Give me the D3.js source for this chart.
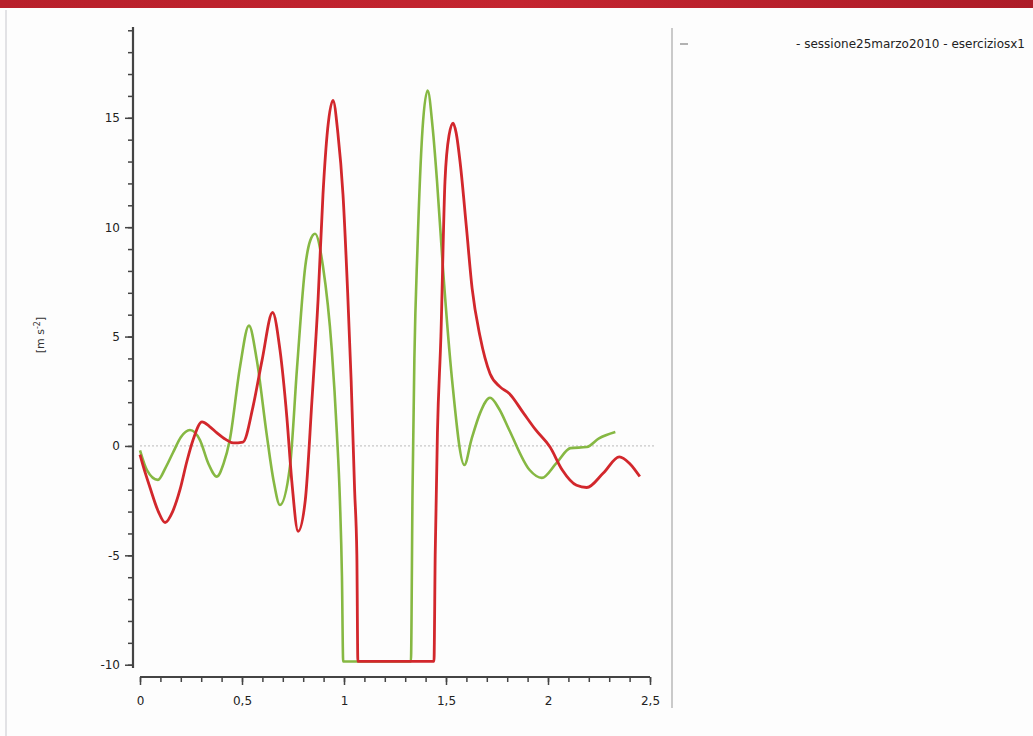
<!DOCTYPE html>
<html>
<head>
<meta charset="utf-8">
<script src="https://cdn.jsdelivr.net/npm/d3@7"></script>
<style>
  body { margin: 0; background: #fdfdfd; }
  svg { display: block; }
  .axis text { font-family: "DejaVu Sans", Verdana, sans-serif; font-size: 12px; fill: #222; }
  .axis path, .axis line { stroke: #444; }
</style>
</head>
<body>
<script>
// red series (time in s, value in m s-2)
var redT = [0, 0.015, 0.049, 0.09, 0.123, 0.16, 0.196, 0.23, 0.26, 0.304, 0.34, 0.377, 0.42, 0.456, 0.505, 0.554, 0.598, 0.65, 0.686, 0.72, 0.745, 0.775, 0.81, 0.843, 0.873, 0.897, 0.92, 0.946, 0.97, 0.995, 1.018, 1.035, 1.052, 1.063, 1.068, 1.441, 1.447, 1.458, 1.475, 1.495, 1.515, 1.535, 1.55, 1.57, 1.60, 1.628, 1.667, 1.716, 1.765, 1.81, 1.88, 1.94, 2.01, 2.07, 2.14, 2.19, 2.27, 2.35, 2.40, 2.45]
var redV = [-0.4, -0.9, -1.9, -3.0, -3.5, -3.0, -2.0, -0.7, 0.27, 1.1, 0.9, 0.6, 0.3, 0.14, 0.18, 1.8, 3.9, 6.1, 4.4, 1.3, -1.7, -3.9, -2.5, 2.1, 6.7, 11.5, 14.5, 15.8, 14.3, 11.5, 7.0, 3.0, -2.0, -5.0, -9.85, -9.85, -5.0, 0.6, 5.0, 12.1, 14.2, 14.75, 14.3, 12.9, 10.0, 7.2, 5.0, 3.3, 2.7, 2.4, 1.5, 0.73, -0.05, -1.1, -1.8, -1.9, -1.25, -0.5, -0.8, -1.4]

// green series
var greenT = [0, 0.034, 0.088, 0.125, 0.162, 0.2, 0.245, 0.294, 0.335, 0.377, 0.41, 0.44, 0.49, 0.534, 0.573, 0.62, 0.655, 0.686, 0.735, 0.77, 0.81, 0.835, 0.858, 0.897, 0.94, 0.965, 0.98, 0.99, 0.996, 1.328, 1.336, 1.345, 1.36, 1.385, 1.41, 1.435, 1.456, 1.486, 1.53, 1.59, 1.625, 1.667, 1.716, 1.76, 1.81, 1.91, 1.97, 2.04, 2.11, 2.19, 2.25, 2.33]
var greenV = [-0.2, -1.1, -1.55, -1.0, -0.3, 0.4, 0.73, 0.27, -0.8, -1.4, -0.8, 0.27, 3.6, 5.5, 3.9, 0.6, -1.6, -2.7, -0.95, 3.6, 8.2, 9.4, 9.7, 8.2, 4.4, 0.6, -2.5, -6.0, -9.85, -9.85, -2.0, 4.0, 9.0, 14.5, 16.25, 14.5, 12.1, 8.0, 3.0, -0.87, 0.3, 1.5, 2.2, 1.7, 0.73, -1.1, -1.46, -0.8, -0.1, -0.05, 0.35, 0.64]

var xTicks = [0, 0.5, 1, 1.5, 2, 2.5]
var yTicks = [-10, -5, 0, 5, 10, 15]
var yLabel = "[m s"
var yLabelSup = "-2"
var legendText = "- sessione25marzo2010 - eserciziosx1"

var width = 1033, height = 736

var svg = d3.select("body").append("svg")
  .attr("width", width)
  .attr("height", height)

// top red band
var grad = svg.append("defs").append("linearGradient").attr("id", "band")
grad.append("stop").attr("offset", "0%").attr("stop-color", "#b8202b")
grad.append("stop").attr("offset", "50%").attr("stop-color", "#c42530")
grad.append("stop").attr("offset", "100%").attr("stop-color", "#ad1c28")
svg.append("rect").attr("x", 0).attr("y", 0).attr("width", width).attr("height", 8).attr("fill", "url(#band)")

// faint scan edge
svg.append("line").attr("x1", 6).attr("x2", 6).attr("y1", 10).attr("y2", height)
  .attr("stroke", "#d8d8dc").attr("stroke-width", 1.5)

var x = d3.scaleLinear().domain([0, 2.5]).range([140, 650])
var y = d3.scaleLinear().domain([-10.15, 19.15]).range([668, 27])

var fmt = function(d){ return String(d).replace(".", ",") }

// y axis
var yAxis = d3.axisLeft(y).tickValues(yTicks).tickSize(8).tickPadding(5).tickFormat(fmt)
var gy = svg.append("g").attr("class", "axis").attr("transform", "translate(133,0)").call(yAxis)
gy.select(".domain").attr("stroke-width", 2.2).attr("d", "M0," + y.range()[0] + "V" + y.range()[1])
var gyMinor = svg.append("g").attr("class", "axis").attr("transform", "translate(133,0)")
  .call(d3.axisLeft(y).tickValues(d3.range(-10, 20, 1)).tickSize(5).tickFormat(""))
gyMinor.select(".domain").remove()
gy.selectAll("line").attr("stroke-width", 1.5)
gyMinor.selectAll("line").attr("stroke-width", 1.5)

// x axis
var xAxis = d3.axisBottom(x).tickValues(xTicks).tickSize(8).tickPadding(11).tickFormat(fmt)
var gx = svg.append("g").attr("class", "axis").attr("transform", "translate(0,677)").call(xAxis)
gx.select(".domain").attr("stroke-width", 2).attr("d", "M" + x.range()[0] + ",0H" + x.range()[1])
var gxMinor = svg.append("g").attr("class", "axis").attr("transform", "translate(0,677)")
  .call(d3.axisBottom(x).tickValues(d3.range(0, 2.51, 0.1)).tickSize(5).tickFormat(""))
gxMinor.select(".domain").remove()
gx.selectAll("line").attr("stroke-width", 1.5)
gxMinor.selectAll("line").attr("stroke-width", 1.5)

// zero line
svg.append("line")
  .attr("x1", x(0)).attr("x2", 655)
  .attr("y1", y(0)).attr("y2", y(0))
  .attr("stroke", "#c8c8c8").attr("stroke-width", 1.2).attr("stroke-dasharray", "2,2")

// y label
var yl = svg.append("text")
  .attr("transform", "translate(44," + 335 + ") rotate(-90)")
  .attr("text-anchor", "middle")
  .style("font-family", "DejaVu Sans, Verdana, sans-serif")
  .style("font-size", "11px")
  .attr("fill", "#333")
yl.append("tspan").text(yLabel)
yl.append("tspan").attr("dy", -4).style("font-size", "8px").text(yLabelSup)
yl.append("tspan").attr("dy", 4).text("]")

// lines
var line = d3.line()
  .x(function(d){ return x(d.t) })
  .y(function(d){ return y(d.v) })
  .curve(d3.curveMonotoneX)

var red = redT.map(function(t, i){ return { t: t, v: redV[i] } })
var green = greenT.map(function(t, i){ return { t: t, v: greenV[i] } })

svg.append("path").datum(green)
  .attr("d", line).attr("fill", "none")
  .attr("stroke", "#86b843").attr("stroke-width", 2.6).attr("stroke-linejoin", "round")
svg.append("path").datum(red)
  .attr("d", line).attr("fill", "none")
  .attr("stroke", "#d2272c").attr("stroke-width", 2.8).attr("stroke-linejoin", "round")

// legend panel
svg.append("line").attr("x1", 672).attr("x2", 672).attr("y1", 28).attr("y2", 708)
  .attr("stroke", "#b8b8b8").attr("stroke-width", 1.5)
svg.append("line").attr("x1", 680).attr("x2", 688).attr("y1", 44).attr("y2", 44)
  .attr("stroke", "#999").attr("stroke-width", 1.5)
svg.append("text")
  .attr("x", 1025).attr("y", 48)
  .attr("text-anchor", "end")
  .style("font-family", "DejaVu Sans, Verdana, sans-serif")
  .style("font-size", "12px")
  .style("letter-spacing", "0px")
  .attr("fill", "#222")
  .text(legendText)
</script>
</body>
</html>
